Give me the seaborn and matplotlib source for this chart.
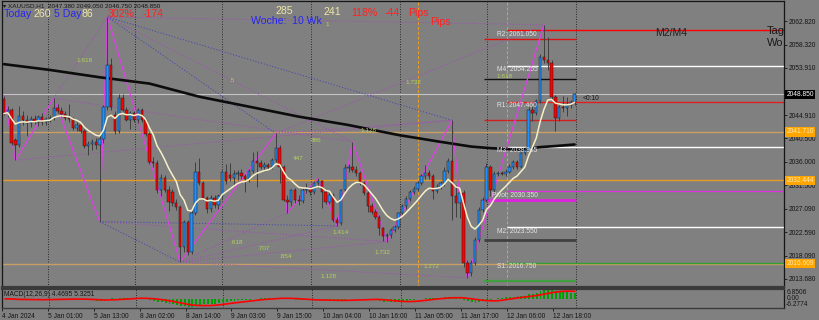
import numpy as np
import pandas as pd
import matplotlib
matplotlib.use("Agg")
import matplotlib.pyplot as plt
import matplotlib.transforms as mtransforms
import seaborn as sns

# ---------------- data (XAUUSD H1) ----------------
opens = [2047.9, 2045.2, 2045.9, 2040.2, 2039.2, 2044.8, 2044.0, 2043.3, 2044.1, 2043.5,
         2044.5, 2043.6, 2044.2, 2044.3, 2046.3, 2045.7, 2045.1, 2044.4, 2044.2, 2042.4,
         2043.0, 2041.9, 2039.0, 2039.4, 2039.8, 2039.2, 2040.3, 2046.4, 2054.4, 2045.0,
         2041.8, 2048.1, 2045.9, 2044.0, 2045.2, 2044.0, 2045.9, 2044.0, 2041.2, 2036.0,
         2035.7, 2030.6, 2033.0, 2030.7, 2030.2, 2028.2, 2027.4, 2019.8, 2024.5, 2018.9,
         2026.2, 2034.1, 2032.0, 2029.1, 2027.0, 2029.1, 2027.8, 2029.4, 2034.1, 2033.5,
         2032.9, 2033.6, 2033.9, 2033.2, 2032.7, 2034.2, 2036.1, 2035.7, 2035.1, 2035.4,
         2035.0, 2036.4, 2038.6, 2035.0, 2028.8, 2028.4, 2030.6, 2028.8, 2028.6, 2030.6,
         2030.8, 2030.3, 2031.9, 2032.3, 2030.3, 2028.4, 2029.7, 2024.9, 2024.3, 2030.6,
         2034.8, 2035.0, 2034.4, 2033.8, 2031.9, 2030.0, 2027.5, 2026.5, 2025.5, 2023.3,
         2021.8, 2022.0, 2023.0, 2023.6, 2026.2, 2027.5, 2029.0, 2030.3, 2030.9, 2031.9,
         2033.2, 2033.8, 2033.2, 2030.5, 2031.2, 2031.9, 2034.3, 2036.2, 2029.4, 2028.1,
         2030.0, 2016.7, 2014.8, 2016.7, 2021.1, 2026.8, 2028.7, 2035.1, 2030.6, 2033.7,
         2033.8, 2033.7, 2034.1, 2035.1, 2036.0, 2035.1, 2037.6, 2038.3, 2045.9, 2045.3,
         2047.5, 2056.0, 2055.4, 2054.9, 2048.3, 2044.3, 2046.5, 2046.2, 2046.8, 2047.38]
highs = [2048.6, 2046.6, 2046.3, 2040.6, 2046.6, 2045.6, 2044.9, 2044.8, 2045.0, 2044.9,
         2045.2, 2044.6, 2045.0, 2048.1, 2047.1, 2046.4, 2045.6, 2047.0, 2044.6, 2043.5,
         2043.4, 2042.3, 2040.0, 2040.3, 2040.5, 2041.3, 2046.9, 2063.6, 2055.8, 2045.6,
         2048.9, 2049.0, 2046.4, 2045.7, 2045.6, 2046.3, 2046.3, 2044.4, 2041.6, 2036.9,
         2036.3, 2033.6, 2033.4, 2031.3, 2030.8, 2028.9, 2027.8, 2025.0, 2024.9, 2026.8,
         2035.9, 2036.8, 2032.4, 2029.5, 2029.6, 2029.7, 2029.9, 2034.5, 2035.6, 2035.7,
         2034.5, 2034.4, 2034.6, 2033.6, 2034.6, 2037.9, 2038.0, 2036.4, 2035.9, 2035.8,
         2036.8, 2041.4, 2039.2, 2035.3, 2029.6, 2030.9, 2031.0, 2029.6, 2031.0, 2032.0,
         2031.2, 2032.4, 2032.9, 2032.6, 2030.8, 2030.2, 2030.0, 2025.4, 2030.9, 2035.5,
         2035.6, 2039.8, 2035.2, 2034.2, 2032.3, 2030.4, 2028.2, 2027.0, 2025.9, 2023.6,
         2022.4, 2023.4, 2024.0, 2026.5, 2027.9, 2029.4, 2030.6, 2031.3, 2032.3, 2033.6,
         2035.4, 2034.5, 2033.6, 2031.7, 2032.4, 2035.0, 2036.8, 2043.9, 2031.5, 2030.5,
         2030.6, 2017.2, 2017.3, 2021.6, 2027.4, 2029.2, 2035.7, 2035.4, 2034.2, 2034.2,
         2034.3, 2034.6, 2035.6, 2036.4, 2036.4, 2037.9, 2038.7, 2046.5, 2046.8, 2047.9,
         2056.5, 2062.1, 2059.8, 2055.3, 2048.8, 2046.9, 2048.5, 2048.4, 2047.8, 2049.05]
lows = [2044.9, 2044.6, 2039.2, 2036.3, 2038.8, 2043.0, 2041.0, 2042.6, 2043.2, 2042.9,
        2043.0, 2043.1, 2043.6, 2044.0, 2045.2, 2044.6, 2043.9, 2043.6, 2042.0, 2041.8,
        2041.5, 2038.6, 2037.2, 2038.3, 2038.5, 2024.6, 2039.6, 2045.9, 2045.8, 2041.3,
        2041.5, 2045.6, 2043.7, 2042.2, 2043.6, 2043.4, 2043.6, 2040.9, 2035.6, 2035.0,
        2030.0, 2029.5, 2030.3, 2026.6, 2027.6, 2026.9, 2016.9, 2018.9, 2018.2, 2018.5,
        2025.8, 2031.5, 2028.7, 2026.3, 2026.5, 2027.2, 2027.0, 2029.0, 2031.8, 2032.4,
        2031.3, 2032.5, 2032.8, 2030.3, 2032.2, 2033.8, 2031.2, 2034.6, 2034.5, 2034.5,
        2034.7, 2036.0, 2032.0, 2028.5, 2026.3, 2027.6, 2028.2, 2027.8, 2028.2, 2030.0,
        2029.6, 2029.9, 2031.2, 2027.2, 2027.9, 2028.0, 2024.6, 2023.8, 2024.0, 2030.2,
        2034.0, 2034.0, 2033.3, 2031.6, 2029.7, 2026.5, 2026.0, 2025.1, 2022.0, 2021.0,
        2020.8, 2021.4, 2022.6, 2023.2, 2025.8, 2027.1, 2028.6, 2029.9, 2030.5, 2031.5,
        2032.8, 2032.8, 2029.0, 2030.0, 2030.8, 2031.4, 2033.9, 2024.9, 2025.5, 2025.3,
        2016.0, 2013.9, 2014.2, 2016.3, 2020.8, 2026.4, 2028.3, 2029.5, 2030.3, 2033.2,
        2033.4, 2033.3, 2033.8, 2034.7, 2034.7, 2034.8, 2037.2, 2038.0, 2043.8, 2045.0,
        2047.2, 2054.8, 2053.5, 2047.9, 2041.9, 2043.8, 2045.5, 2044.7, 2046.3, 2046.75]
closes = [2045.2, 2045.9, 2039.6, 2039.2, 2044.8, 2044.0, 2043.3, 2044.1, 2043.5, 2044.5,
          2043.6, 2044.2, 2044.3, 2046.3, 2045.7, 2045.1, 2044.4, 2044.2, 2042.4, 2043.0,
          2041.9, 2039.0, 2039.4, 2039.8, 2039.2, 2040.3, 2046.4, 2054.4, 2046.4, 2041.8,
          2048.1, 2045.9, 2044.0, 2045.2, 2044.0, 2045.9, 2044.0, 2041.2, 2036.0, 2035.7,
          2030.6, 2033.0, 2030.7, 2028.4, 2028.2, 2027.4, 2019.8, 2024.5, 2018.9, 2026.2,
          2034.1, 2032.0, 2029.1, 2027.0, 2029.1, 2027.8, 2029.4, 2034.1, 2032.4, 2032.9,
          2033.6, 2033.9, 2033.2, 2032.7, 2034.2, 2036.1, 2035.7, 2035.1, 2035.4, 2035.0,
          2036.4, 2038.6, 2035.0, 2028.8, 2028.4, 2030.6, 2028.8, 2028.6, 2030.6, 2030.8,
          2030.3, 2031.9, 2032.3, 2030.3, 2028.4, 2029.7, 2024.9, 2024.3, 2030.6, 2034.8,
          2035.0, 2034.4, 2033.8, 2031.9, 2030.0, 2027.5, 2026.5, 2025.5, 2023.3, 2021.8,
          2022.0, 2023.0, 2023.6, 2026.2, 2027.5, 2029.0, 2030.3, 2030.9, 2031.9, 2033.2,
          2033.8, 2033.2, 2030.5, 2031.2, 2031.9, 2034.3, 2036.2, 2029.4, 2028.1, 2030.0,
          2016.7, 2014.8, 2016.7, 2021.1, 2026.8, 2028.7, 2035.1, 2030.6, 2033.7, 2033.8,
          2033.7, 2034.1, 2035.1, 2036.0, 2035.1, 2037.6, 2038.3, 2045.9, 2045.3, 2047.5,
          2056.0, 2055.4, 2054.9, 2048.3, 2044.3, 2046.5, 2046.2, 2046.8, 2047.38, 2048.85]

# slow moving average
ma_slow_bars = [0, 12, 25, 38, 51, 64, 77, 90, 103, 114, 122, 127, 135, 140, 144, 149]
ma_slow_vals = [2054.6, 2053.5, 2052.1, 2050.9, 2048.4, 2046.5, 2044.6, 2043.0, 2041.1,
                2039.8, 2038.9, 2038.6, 2038.3, 2038.8, 2039.0, 2039.3]

# zigzag swing bars ('H' = high, 'L' = low)
zz_bars = [0, 3, 13, 25, 27, 46, 71, 74, 82, 87, 91, 100, 117, 121, 141]
zz_kind = ['H', 'L', 'H', 'L', 'H', 'L', 'H', 'L', 'H', 'L', 'H', 'L', 'H', 'L', 'H']
# dotted fib connections between swing points (indices into zz lists)
purple_links = [(2, 4), (4, 14), (4, 10), (6, 14), (1, 12), (2, 10), (5, 9), (5, 11),
                (5, 13), (5, 7), (3, 11), (6, 12)]
blue_links = [(4, 12), (4, 6), (3, 5), (3, 9)]

# pivot levels (long lines)
pivot_names = ['R2', 'M4', 'R1', 'M3', 'Pivot', 'M2', 'S1']
pivot_vals = [2061.050, 2054.255, 2047.460, 2038.905, 2030.350, 2023.550, 2016.750]
pivot_cols = ['#FF0000', '#FFFFFF', '#E02020', '#FFFFFF', '#E030E0', '#FFFFFF', '#30A030']
# short level lines
short_vals = [2059.3, 2051.7, 2043.96, 2028.7, 2021.1, 2013.35]
short_cols = ['#E01010', '#101010', '#D02020', '#E020E0', '#404040', '#40A040']
short_lw = [1.0, 1.0, 1.0, 2.0, 2.0, 1.6]

# marked horizontal levels (orange) and current price
level_vals = [2041.710, 2032.444, 2016.609]
level_cols = ['#C8A064', '#E69A28', '#C8A064']
price_now = 2048.850

price_ticks = [2062.820, 2058.320, 2053.910, 2049.410, 2044.910, 2040.500, 2036.000,
               2031.500, 2027.090, 2022.590, 2018.090, 2013.680]
time_labels = ['4 Jan 2024', '5 Jan 01:00', '5 Jan 13:00', '8 Jan 02:00', '8 Jan 14:00',
               '9 Jan 03:00', '9 Jan 15:00', '10 Jan 04:00', '10 Jan 16:00',
               '11 Jan 05:00', '11 Jan 17:00', '12 Jan 06:00', '12 Jan 18:00']
macd_range = (-6.2774, 6.8506)
macd_main_now, macd_sig_now = 4.4695, 5.3251

# ---------------- style ----------------
sns.set_theme(style="white")
plt.rcParams['font.family'] = ['Liberation Sans', 'DejaVu Sans']

W, H = 819, 320
BG = '#808080'
DARK = '#161616'
fig = plt.figure(figsize=(W / 100, H / 100), dpi=100, facecolor=BG)


def ftxt(x, y, s, **kw):
    kw.setdefault('va', 'center')
    kw.setdefault('ha', 'left')
    return fig.text(x / W, 1 - y / H, s, **kw)


BAR_PX = 3.83
XMIN = -0.5
XMAX = XMIN + 782 / BAR_PX
ax = fig.add_axes([2 / W, 1 - 287 / H, 782 / W, 286 / H])
ax.set_facecolor(BG)
ax.set_xlim(XMIN, XMAX)
ax.set_ylim(2012.15, 2066.63)
for s in ['left', 'right', 'top']:
    ax.spines[s].set_color(DARK)
    ax.spines[s].set_linewidth(0.9)
ax.spines['bottom'].set_color('#3a3a3a')
ax.spines['bottom'].set_linewidth(1.6)

o = np.array(opens); h = np.array(highs); l = np.array(lows); c = np.array(closes)
idx = np.arange(len(c))

# vertical grid (dotted) every trading day
grid_bars = [11.4, 34.2, 56.9, 80.2, 103.4, 126.1, 149.3]
dotted = (0, (1.2, 1.8))
for gb in grid_bars:
    ax.axvline(gb, color='#202020', lw=0.6, ls=dotted, zorder=1)

# orange session markers
for vb in [108.1, 131.3]:
    ax.axvline(vb, color='#F0A020', lw=0.7, ls=(0, (3, 2)), zorder=1)

# horizontal levels
for v, col in zip(level_vals, level_cols):
    ax.axhline(v, color=col, lw=1.0, zorder=1.5)
ax.axhline(price_now, color='#C4C4C4', lw=0.8, zorder=1.5)

# pivot lines (long)
for v, col in zip(pivot_vals, pivot_cols):
    ax.hlines(v, 131.3, XMAX, color=col, lw=1.0 if col != '#E030E0' else 0.9, zorder=2)
# short lines
for v, col, lw in zip(short_vals, short_cols, short_lw):
    ax.hlines(v, 125.4, 149.4, color=col, lw=lw, zorder=2)

# zigzag points
zz_vals = [h[b] if k == 'H' else l[b] for b, k in zip(zz_bars, zz_kind)]
for a, b in purple_links:
    ax.plot([zz_bars[a], zz_bars[b]], [zz_vals[a], zz_vals[b]], color='#A050B4',
            lw=0.7, ls=dotted, zorder=2)
for a, b in blue_links:
    ax.plot([zz_bars[a], zz_bars[b]], [zz_vals[a], zz_vals[b]], color='#4848B0',
            lw=0.7, ls=dotted, zorder=2)
sns.lineplot(x=zz_bars, y=zz_vals, ax=ax, color='#E040E8', lw=0.9, sort=False,
             legend=False, zorder=3)

# slow MA
sns.lineplot(x=ma_slow_bars, y=ma_slow_vals, ax=ax, color='#0c0c0c', lw=1.9,
             legend=False, zorder=3.5)

# candles
ax.vlines(idx, l, h, color='#404040', lw=0.7, zorder=4)
up = c >= o
bb = np.minimum(o, c)
bh = np.maximum(np.abs(c - o), 0.12)
ax.bar(idx[up], bh[up], bottom=bb[up], width=0.62, color='#1E90FF',
       edgecolor='#1a1a1a', linewidth=0.35, zorder=5)
ax.bar(idx[~up], bh[~up], bottom=bb[~up], width=0.62, color='#FF0000',
       edgecolor='#1a1a1a', linewidth=0.35, zorder=5)

# fast MA (computed from closes)
ema_fast = pd.Series(c).ewm(span=9, adjust=False).mean().values
sns.lineplot(x=idx, y=ema_fast, ax=ax, color='#F6F0C8', lw=1.1, legend=False, zorder=6)

# right price axis (label under the current-price box is hidden, as in MT4)
ax.yaxis.tick_right()
ax.set_yticks(price_ticks)
ax.set_yticklabels(['' if abs(v - price_now) < 1.0 else f"{v:.3f}" for v in price_ticks])
ax.tick_params(axis='y', right=True, left=False, direction='out', length=2, width=0.6,
               color=DARK, labelsize=4.8, labelcolor=DARK, pad=1.5)
ax.tick_params(axis='x', bottom=False, labelbottom=False)
ax.set_xlabel(''); ax.set_ylabel('')

tr = mtransforms.blended_transform_factory(ax.transAxes, ax.transData)
xb = 1 + 2.5 / 782
ax.text(xb, price_now, f"{price_now:.3f}", transform=tr, va='center', ha='left',
        fontsize=4.8, color='white', clip_on=False, zorder=10,
        bbox=dict(boxstyle='square,pad=0.18', fc='black', ec='none'))
for v in level_vals:
    ax.text(xb, v, f"{v:.3f}", transform=tr, va='center', ha='left', fontsize=4.8,
            color='#FFE9B0', clip_on=False, zorder=10,
            bbox=dict(boxstyle='square,pad=0.18', fc='#FFA500', ec='none'))

# texts cut off at the right edge of the chart
for txt, yv in [('Tag', 31), ('Wo', 43)]:
    ax.text((767 - 2) / 782, 1 - (yv - 1) / 286, txt, transform=ax.transAxes,
            fontsize=8, color='#1a1a1a', va='center', ha='left')

# ---------------- MACD panel ----------------
ax2 = fig.add_axes([2 / W, 1 - 308 / H, 782 / W, 19 / H])
ax2.set_facecolor(BG)
ax2.set_xlim(XMIN, XMAX)
ax2.set_ylim(*macd_range)
for s in ['left', 'right']:
    ax2.spines[s].set_color(DARK)
    ax2.spines[s].set_linewidth(0.9)
ax2.spines['top'].set_color('#3a3a3a'); ax2.spines['top'].set_linewidth(1.6)
ax2.spines['bottom'].set_color('#3a3a3a'); ax2.spines['bottom'].set_linewidth(1.0)
ema12 = pd.Series(c).ewm(span=12, adjust=False).mean()
ema26 = pd.Series(c).ewm(span=26, adjust=False).mean()
macd = (ema12 - ema26).values
signal = pd.Series(macd).rolling(9, min_periods=1).mean().values
for gb in grid_bars:
    ax2.axvline(gb, color='#202020', lw=0.6, ls=dotted, zorder=1)
ax2.bar(idx, macd, width=0.5, color='#00A000', edgecolor='none', linewidth=0, zorder=2)
sns.lineplot(x=idx, y=signal, ax=ax2, color='#FF0000', lw=1.2, legend=False, zorder=3)
ax2.set_yticks([])
ax2.set_xlabel(''); ax2.set_ylabel('')
tick_pos = [12 * k - 0.8 for k in range(len(time_labels))]
ax2.set_xticks(tick_pos)
ax2.set_xticklabels(time_labels, ha='left')
ax2.tick_params(axis='x', bottom=True, direction='out', length=2, width=0.6, color=DARK,
                labelsize=4.8, labelcolor=DARK, pad=1.5)

ftxt(787, 293, f"{macd_range[1]:.4f}", fontsize=4.8, color=DARK)
ftxt(787, 299, "0.00", fontsize=4.8, color=DARK)
ftxt(786, 305, f"{macd_range[0]:.4f}", fontsize=4.8, color=DARK)
ftxt(4, 295, f"MACD(12,26,9) {macd_main_now:.4f} {macd_sig_now:.4f}", fontsize=4.8, color=DARK)

# ---------------- texts ----------------
ftxt(3, 6, f"\u25BE XAUUSD,H1  {opens[-1]:.3f} {highs[-1]:.3f} {lows[-1]:.3f} {closes[-1]:.3f}",
     fontsize=4.6, color=DARK)
BLUE = '#2626F0'; KHAKI = '#EEE6A8'; RED = '#FF2222'
big = 7.6
ftxt(4, 14, "Today", fontsize=big, color=BLUE)
ftxt(33, 14, "260", fontsize=big, color=KHAKI)
ftxt(54, 14, "5 Day", fontsize=big, color=BLUE)
ftxt(82, 14, "86", fontsize=big, color=KHAKI)
ftxt(108, 14, "302%", fontsize=big, color=RED)
ftxt(143, 14, "-174", fontsize=big, color=RED)
ftxt(275, 11, "285", fontsize=big, color=KHAKI)
ftxt(251, 21.5, "Woche:  10 Wk", fontsize=big, color=BLUE)
ftxt(324, 12, "241", fontsize=big, color=KHAKI)
ftxt(351, 13, "118%", fontsize=big, color=RED)
ftxt(385, 13, "-44", fontsize=big, color=RED)
ftxt(408, 13, "Pips", fontsize=big, color=RED)
ftxt(430, 22, "Pips", fontsize=big, color=RED)
ftxt(655, 33, "M2/M4", fontsize=7.5, color='#1e1e1e')
ftxt(583, 99, "<0:10", fontsize=4.8, color=DARK)

# fib labels
fib_labels = [("1.618", 76, 61), (".5", 229, 81), ("447", 293, 158), ("886", 311, 140),
              ("1.128", 360, 130), ("1.732", 405, 82), ("1.618", 496, 76), (".618", 230, 243),
              (".707", 257, 248), (".854", 279, 257), ("1.414", 332, 232), ("1.732", 374, 252),
              ("1.272", 423, 266), ("1.128", 320, 276), ("1", 325, 25)]
for s, x, y in fib_labels:
    ftxt(x, y, s, fontsize=4.6, color='#B4D25A')

# pivot labels
for name, v, x in zip(pivot_names, pivot_vals, [497, 497, 497, 497, 492, 497, 497]):
    ypx = 1 + (2066.63 - v) * 5.25 + 4
    ftxt(x, ypx, f"{name}: {v:.3f}", fontsize=4.8, color='#E4E4E4')

fig.savefig("out.png", dpi=100, facecolor=BG)
